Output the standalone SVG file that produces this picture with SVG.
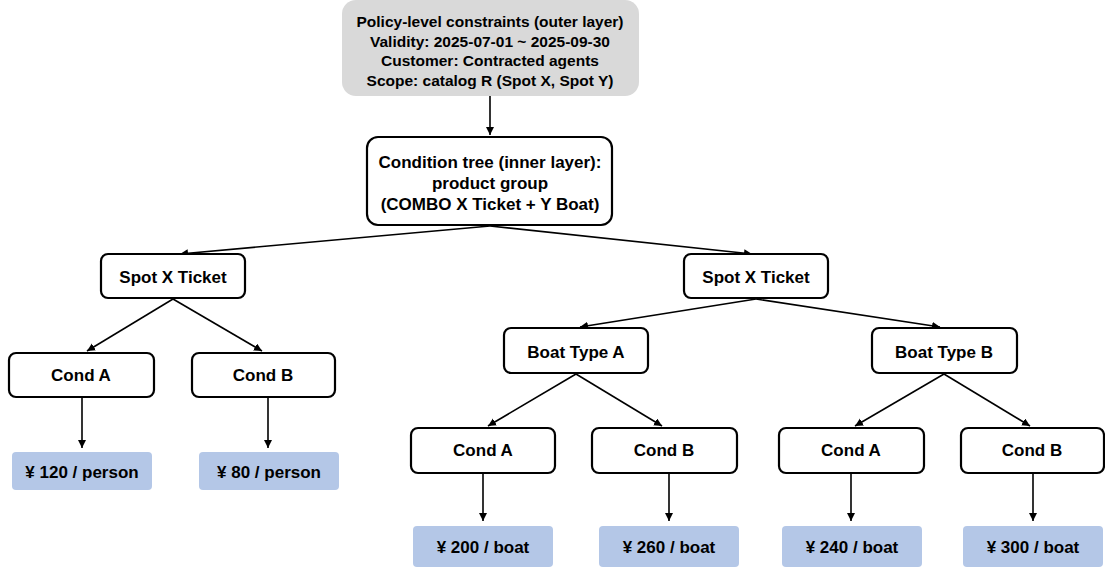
<svg xmlns="http://www.w3.org/2000/svg" width="1105" height="567" viewBox="0 0 1105 567">
<style>
text{font-family:"Liberation Sans",Arial,sans-serif;font-weight:bold;fill:#000;text-anchor:middle}
.t{font-size:17px}
.h{font-size:15.5px}
.n{fill:#fff;stroke:#000;stroke-width:2.2}
.p{fill:#b4c7e7}
.g{fill:#d9d9d9}
.e{stroke:#000;stroke-width:1.6;fill:none;marker-end:url(#a)}
</style>
<defs>
<marker id="a" markerWidth="10" markerHeight="10" refX="8" refY="4" orient="auto" markerUnits="userSpaceOnUse">
<path d="M0,0 L8,4 L0,8 Z" fill="#000"/>
</marker>
</defs>
<rect width="1105" height="567" fill="#fff"/>
<g id="edges">
<line class="e" x1="490" y1="96" x2="490" y2="135"/>
<line class="e" x1="490" y1="226" x2="180" y2="254"/>
<line class="e" x1="490" y1="226" x2="752" y2="254"/>
<line class="e" x1="173" y1="299" x2="87" y2="351"/>
<line class="e" x1="173" y1="299" x2="262" y2="351"/>
<line class="e" x1="82" y1="398" x2="82" y2="448"/>
<line class="e" x1="268" y1="398" x2="268" y2="448"/>
<line class="e" x1="756" y1="299" x2="580" y2="327"/>
<line class="e" x1="756" y1="299" x2="940" y2="327"/>
<line class="e" x1="576" y1="374" x2="488" y2="426"/>
<line class="e" x1="576" y1="374" x2="662" y2="426"/>
<line class="e" x1="944" y1="374" x2="855" y2="426"/>
<line class="e" x1="944" y1="374" x2="1030" y2="426"/>
<line class="e" x1="483" y1="474" x2="483" y2="521"/>
<line class="e" x1="669" y1="474" x2="669" y2="521"/>
<line class="e" x1="851" y1="474" x2="851" y2="521"/>
<line class="e" x1="1033" y1="474" x2="1033" y2="521"/>
</g>
<g id="policy">
<rect class="g" x="342" y="0" width="297" height="96" rx="14"/>
<text class="h" x="490" y="27">Policy-level constraints (outer layer)</text>
<text class="h" x="490" y="46.5">Validity: 2025-07-01 ~ 2025-09-30</text>
<text class="h" x="490" y="66">Customer: Contracted agents</text>
<text class="h" x="490" y="85.5">Scope: catalog R (Spot X, Spot Y)</text>
</g>
<g id="condtree">
<rect class="n" x="367" y="137" width="245" height="88" rx="11"/>
<text class="t" x="490" y="168">Condition tree (inner layer):</text>
<text class="t" x="490" y="189">product group</text>
<text class="t" x="490" y="210">(COMBO X Ticket + Y Boat)</text>
</g>
<g id="spotL">
<rect class="n" x="101" y="254" width="144" height="44" rx="7"/>
<text class="t" x="173" y="283">Spot X Ticket</text>
</g>
<g id="spotR">
<rect class="n" x="684" y="254" width="144" height="44" rx="7"/>
<text class="t" x="756" y="283">Spot X Ticket</text>
</g>
<g id="condA1">
<rect class="n" x="9" y="353" width="145" height="44" rx="7"/>
<text class="t" x="81" y="381">Cond A</text>
</g>
<g id="condB1">
<rect class="n" x="192" y="353" width="143" height="44" rx="7"/>
<text class="t" x="263" y="381">Cond B</text>
</g>
<g id="price120">
<rect class="p" x="12" y="452" width="140" height="38" rx="4"/>
<text class="t" x="82" y="478">¥ 120 / person</text>
</g>
<g id="price80">
<rect class="p" x="199" y="452" width="140" height="38" rx="4"/>
<text class="t" x="269" y="478">¥ 80 / person</text>
</g>
<g id="boatA">
<rect class="n" x="504" y="328" width="144" height="45" rx="7"/>
<text class="t" x="576" y="358">Boat Type A</text>
</g>
<g id="boatB">
<rect class="n" x="872" y="328" width="145" height="45" rx="7"/>
<text class="t" x="944" y="358">Boat Type B</text>
</g>
<g id="condA2">
<rect class="n" x="411" y="428" width="144" height="45" rx="7"/>
<text class="t" x="483" y="456">Cond A</text>
</g>
<g id="condB2">
<rect class="n" x="592" y="428" width="145" height="45" rx="7"/>
<text class="t" x="664" y="456">Cond B</text>
</g>
<g id="condA3">
<rect class="n" x="779" y="428" width="145" height="45" rx="7"/>
<text class="t" x="851" y="456">Cond A</text>
</g>
<g id="condB3">
<rect class="n" x="961" y="428" width="143" height="45" rx="7"/>
<text class="t" x="1032" y="456">Cond B</text>
</g>
<g id="price200">
<rect class="p" x="413" y="526" width="140" height="41" rx="4"/>
<text class="t" x="483" y="553">¥ 200 / boat</text>
</g>
<g id="price260">
<rect class="p" x="599" y="526" width="140" height="41" rx="4"/>
<text class="t" x="669" y="553">¥ 260 / boat</text>
</g>
<g id="price240">
<rect class="p" x="782" y="526" width="140" height="41" rx="4"/>
<text class="t" x="852" y="553">¥ 240 / boat</text>
</g>
<g id="price300">
<rect class="p" x="963" y="526" width="140" height="41" rx="4"/>
<text class="t" x="1033" y="553">¥ 300 / boat</text>
</g>
</svg>
